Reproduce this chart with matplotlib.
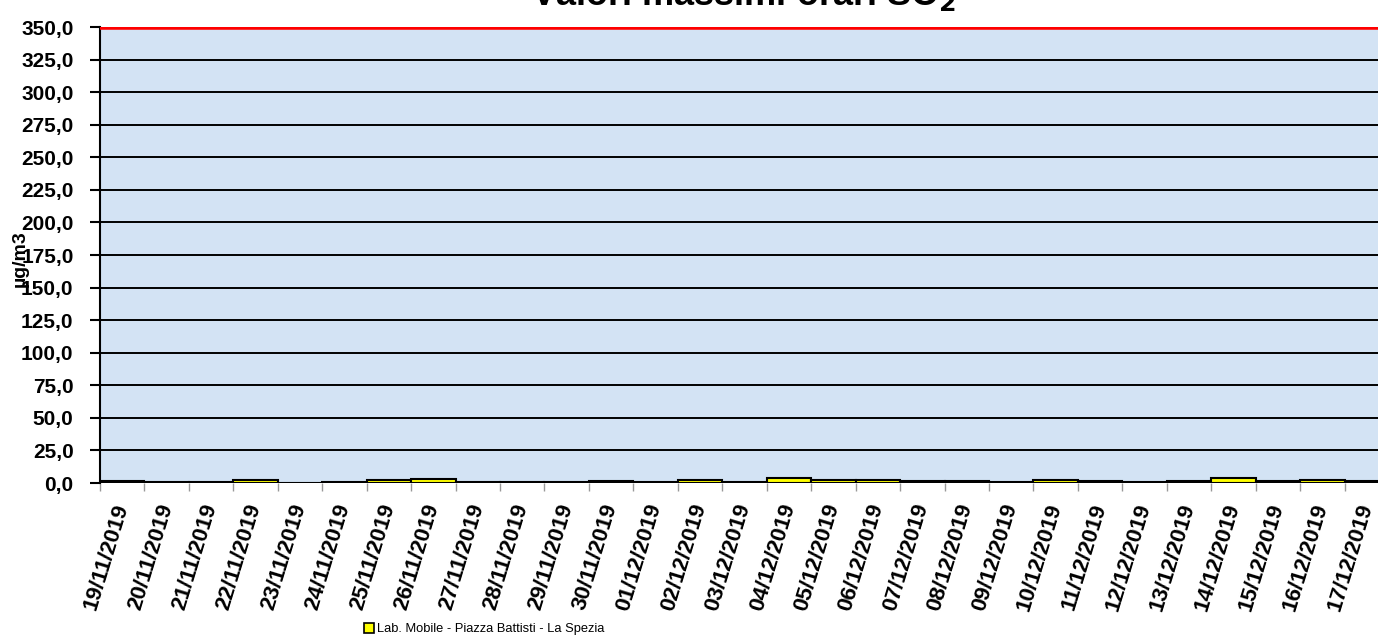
import matplotlib
matplotlib.use("Agg")
import matplotlib.pyplot as plt
from matplotlib.ticker import FuncFormatter, MultipleLocator
from matplotlib.patches import Patch

plt.rcParams['font.family'] = ['Liberation Sans', 'DejaVu Sans']

# giorni di campionamento e massimi orari SO2 (ug/m3)
giorni = ['19/11/2019', '20/11/2019', '21/11/2019', '22/11/2019', '23/11/2019',
          '24/11/2019', '25/11/2019', '26/11/2019', '27/11/2019', '28/11/2019',
          '29/11/2019', '30/11/2019', '01/12/2019', '02/12/2019', '03/12/2019',
          '04/12/2019', '05/12/2019', '06/12/2019', '07/12/2019', '08/12/2019',
          '09/12/2019', '10/12/2019', '11/12/2019', '12/12/2019', '13/12/2019',
          '14/12/2019', '15/12/2019', '16/12/2019', '17/12/2019']
so2_max = [1.8, 1.0, 1.0, 2.0, 0.3, 0.7, 2.0, 3.2, 1.0, 0.5,
           1.0, 1.3, 0.5, 2.0, 0.5, 3.5, 2.6, 2.6, 1.3, 1.3,
           0.8, 2.0, 1.3, 0.8, 1.8, 3.5, 1.8, 2.5, 1.8]
limite_orario = 350.0
stazione = 'Lab. Mobile - Piazza Battisti - La Spezia'

fig = plt.figure(figsize=(13.78, 6.36), dpi=100)
ax = fig.add_axes([100 / 1378, 1 - 483 / 636, 1289 / 1378, 456 / 636])
ax.set_facecolor('#d3e3f4')

x = list(range(len(giorni)))
ax.bar(x, so2_max, width=1.0, color='#ffff00', edgecolor='black', linewidth=1.5, zorder=3)
ax.axhline(limite_orario, color='#ff0000', linewidth=4, zorder=4)

ax.set_xlim(-0.5, len(giorni) - 0.5)
ax.set_ylim(0, 350)
ax.yaxis.set_major_locator(MultipleLocator(25))
ax.yaxis.set_major_formatter(FuncFormatter(lambda v, p: f'{v:.1f}'.replace('.', ',')))
ax.grid(axis='y', color='black', linewidth=1.4, zorder=1)
ax.set_axisbelow(True)

for s in ['top', 'right', 'bottom']:
    ax.spines[s].set_visible(False)
ax.spines['left'].set_linewidth(1.5)

ax.tick_params(axis='y', length=7, width=1.5, labelsize=15, pad=12)
ax.set_xticks([i - 0.5 for i in x], minor=True)
ax.tick_params(axis='x', which='minor', length=6, width=1, color='#999999')
ax.tick_params(axis='x', which='major', length=0, pad=15)
ax.set_xticks(x)
ax.set_xticklabels(giorni, rotation=73, ha='right', va='center', rotation_mode='anchor',
                   fontsize=16, fontweight='bold')
for lab in ax.get_yticklabels():
    lab.set_fontweight('bold')

fig.text(0.540, 1 - 5 / 636, 'Valori massimi orari SO$_\\mathbf{2}$', ha='center',
         va='baseline', fontsize=26, fontweight='bold')
fig.text(0.015, 1 - 259 / 636, 'µg/m3', rotation=90, ha='center', va='center',
         fontsize=14, fontweight='bold')

fig.legend(handles=[Patch(facecolor='#ffff00', edgecolor='black', linewidth=1.2, label=stazione)],
           loc='lower left', bbox_to_anchor=(352 / 1378, -11 / 636), frameon=False,
           fontsize=9.3, handlelength=0.8, handleheight=0.8, handletextpad=0.2)

fig.savefig('out.png', dpi=100)
